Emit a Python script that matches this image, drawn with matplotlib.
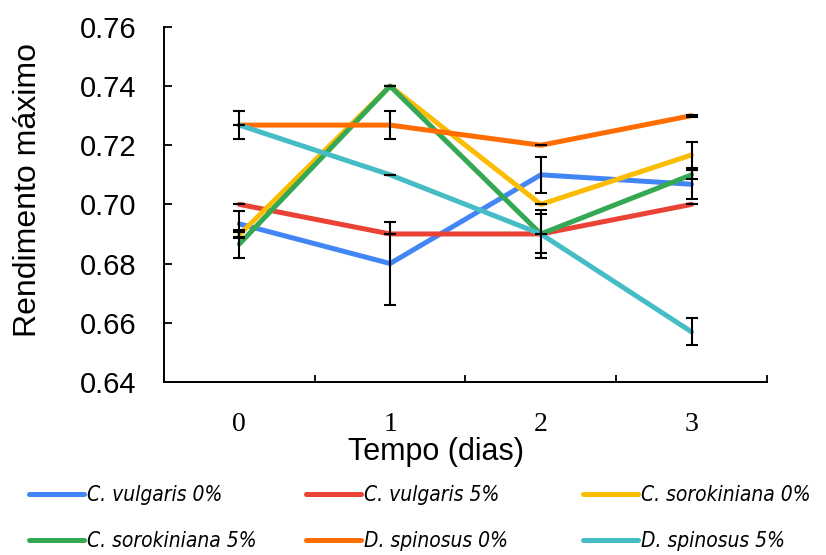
import numpy as np
import matplotlib.pyplot as plt
from matplotlib import font_manager
from matplotlib.font_manager import FontProperties

# data
dias = [0, 1, 2, 3]
series = ["C. vulgaris 0%", "C. vulgaris 5%", "C. sorokiniana 0%",
          "C. sorokiniana 5%", "D. spinosus 0%", "D. spinosus 5%"]
vulgaris0 = [0.6934, 0.680, 0.710, 0.7068]
vulgaris5 = [0.700, 0.690, 0.690, 0.700]
soro0 = [0.6897, 0.740, 0.700, 0.7167]
soro5 = [0.6866, 0.740, 0.690, 0.710]
spin0 = [0.7268, 0.7268, 0.720, 0.730]
spin5 = [0.7268, 0.710, 0.690, 0.6569]

err_vulgaris0 = [0.0045, 0.014, 0.006, 0.0049]
err_vulgaris5 = [0.0, 0.0, 0.0, 0.0]
err_soro0 = [0.001, 0.0, 0.0, 0.0045]
err_soro5 = [0.0047, 0.0, 0.0082, 0.0015]
err_spin0 = [0.0047, 0.0047, 0.0, 0.0003]
err_spin5 = [0.0, 0.0, 0.0066, 0.0046]

colors = ['#4285F4', '#EA4335', '#FBBC04', '#34A853', '#FF6D01', '#46BDC6']

# condensed italic for the legend if one is installed
leg_prop = FontProperties(family='Liberation Sans', style='italic', size=13)
for f in font_manager.fontManager.ttflist:
    fn = f.fname.lower()
    if ('condensed' in fn or 'narrow' in fn) and ('oblique' in fn or 'italic' in fn) and 'bold' not in fn:
        leg_prop = FontProperties(fname=f.fname, size=15)
        break

fig = plt.figure(figsize=(8.26, 5.55), dpi=100)
ax = fig.add_axes([0.1985, 0.312, 0.73, 0.6395])

vals = [vulgaris0, vulgaris5, soro0, soro5, spin0, spin5]
errs = [err_vulgaris0, err_vulgaris5, err_soro0, err_soro5, err_spin0, err_spin5]
for name, v, e, c in zip(series, vals, errs, colors):
    ax.plot(dias, v, color=c, lw=3.6, label=name, solid_capstyle='round', zorder=2)
    ax.errorbar(dias, v, yerr=e, fmt='none', ecolor='black', elinewidth=1.5,
                capsize=4, capthick=1.5, zorder=3)

ax.set_xlim(-0.5, 3.5)
ax.set_ylim(0.64, 0.76)
yt = np.arange(0.64, 0.761, 0.02)
ax.set_yticks(yt)
ax.set_yticklabels([f'{t:.2f}' for t in yt], family='Liberation Sans', fontsize=21)
ax.set_xticks([-0.5, 0.5, 1.5, 2.5, 3.5])
ax.set_xticklabels([])
ax.set_xticks(dias, minor=True)
ax.set_xticklabels([str(d) for d in dias], minor=True, family='Liberation Serif', fontsize=20)
ax.tick_params(axis='x', which='major', direction='in', length=5, width=1.3)
ax.tick_params(axis='x', which='minor', length=0, pad=22)
ax.tick_params(axis='y', direction='in', length=6, width=1.3, pad=20)

for s in ['top', 'right']:
    ax.spines[s].set_visible(False)
for s in ['left', 'bottom']:
    ax.spines[s].set_linewidth(1.4)

ax.set_ylabel('Rendimento máximo', family='Liberation Sans', fontsize=23)
ax.yaxis.set_label_coords(-0.2, 0.54)
ax.set_xlabel('Tempo (dias)', family='Liberation Sans', fontsize=22)
ax.xaxis.set_label_coords(0.451, -0.156)

# legend: three equal-width columns, filled row by row
handles, labels = ax.get_legend_handles_labels()
for col in range(3):
    idx = [col, col + 3]
    fig.legend([handles[i] for i in idx], [labels[i] for i in idx],
               loc='upper left', bbox_to_anchor=(0.012 + col * 0.3355, 0.16),
               frameon=False, handlelength=2.65, handletextpad=0.15,
               labelspacing=1.25, prop=leg_prop)

fig.savefig('out.png', dpi=100)
